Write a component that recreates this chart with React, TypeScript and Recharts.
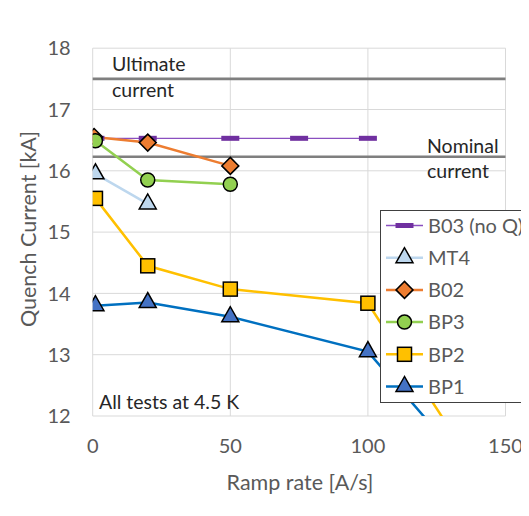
import React from 'react';
import { LineChart, Line, XAxis, YAxis, CartesianGrid, ReferenceLine, Legend } from 'recharts';

// ---- data ----
const xTicks = [0, 50, 100, 150];
const yTicks = [12, 13, 14, 15, 16, 17, 18];

const B03_X = [1, 20, 50, 75, 100];
const B03_Y = [16.53, 16.53, 16.53, 16.53, 16.53];
const MT4_X = [1, 20];
const MT4_Y = [15.95, 15.46];
const B02_X = [0.5, 20, 50];
const B02_Y = [16.55, 16.46, 16.08];
const BP3_X = [1, 20, 50];
const BP3_Y = [16.49, 15.85, 15.78];
const BP2_X = [1, 20, 50, 100, 150];
const BP2_Y = [15.55, 14.45, 14.07, 13.84, 10.4];
const BP1_X = [1, 20, 50, 100, 150];
const BP1_Y = [13.8, 13.85, 13.62, 13.05, 10.45];

const ULTIMATE = 17.5;
const NOMINAL = 16.23;

const toPoints = (xs: number[], ys: number[]) => xs.map((x, i) => ({ x, y: ys[i] }));

type Shape = 'dash' | 'triangle' | 'diamond' | 'circle' | 'square';

const series: { name: string; data: { x: number; y: number }[]; line: string; fill: string; shape: Shape; width: number }[] = [
  { name: 'B03 (no Q)', data: toPoints(B03_X, B03_Y), line: '#8a4fc0', fill: '#7030A0', shape: 'dash', width: 1.3 },
  { name: 'MT4', data: toPoints(MT4_X, MT4_Y), line: '#BDD7EE', fill: '#BDD7EE', shape: 'triangle', width: 2.5 },
  { name: 'B02', data: toPoints(B02_X, B02_Y), line: '#ED7D31', fill: '#ED7D31', shape: 'diamond', width: 2.5 },
  { name: 'BP3', data: toPoints(BP3_X, BP3_Y), line: '#92D050', fill: '#92D050', shape: 'circle', width: 2.5 },
  { name: 'BP2', data: toPoints(BP2_X, BP2_Y), line: '#FFC000', fill: '#FFC000', shape: 'square', width: 2.5 },
  { name: 'BP1', data: toPoints(BP1_X, BP1_Y), line: '#0070C0', fill: '#4472C4', shape: 'triangle', width: 2.5 },
];

const FONT = 'Lato, "Open Sans", sans-serif';
const TICK_FS = 20;
const TITLE_FS = 21.5;
const LEGEND_FS = 20;
const NOTE_FS = 19.5;
const TICK_COLOR = '#595959';
const TEXT_COLOR = '#262626';

function Marker({ shape, cx, cy, fill }: { shape: Shape; cx: number; cy: number; fill: string }) {
  const st = { stroke: '#000', strokeWidth: 1.5, strokeLinejoin: 'miter' as const };
  switch (shape) {
    case 'dash':
      return <rect x={cx - 9} y={cy - 2.5} width={18} height={5} fill={fill} />;
    case 'triangle':
      return <polygon points={`${cx},${cy - 10} ${cx - 8.5},${cy + 5} ${cx + 8.5},${cy + 5}`} fill={fill} {...st} />;
    case 'diamond':
      return <polygon points={`${cx},${cy - 8.5} ${cx + 8.5},${cy} ${cx},${cy + 8.5} ${cx - 8.5},${cy}`} fill={fill} {...st} />;
    case 'circle':
      return <circle cx={cx} cy={cy} r={7} fill={fill} {...st} />;
    case 'square':
    default:
      return <rect x={cx - 7} y={cy - 7} width={14} height={14} fill={fill} {...st} />;
  }
}

const LegendBox = () => (
  <div
    style={{
      width: 170,
      height: 191,
      border: '1px solid #404040',
      background: '#fff',
      boxSizing: 'content-box',
      position: 'relative',
      fontFamily: FONT,
    }}
  >
    <svg width={170} height={191} style={{ position: 'absolute', left: 0, top: 0 }}>
      {series.map((s, i) => {
        const cy = 14.5 + i * 32.2;
        return (
          <g key={s.name}>
            <line x1={5} x2={42} y1={cy} y2={cy} stroke={s.line} strokeWidth={s.shape === 'dash' ? 1.3 : 2.5} />
            <Marker shape={s.shape} cx={23.5} cy={cy} fill={s.fill} />
            <text x={47} y={cy} dy="0.36em" fontSize={LEGEND_FS} fill={TICK_COLOR} fontFamily={FONT}>
              {s.name}
            </text>
          </g>
        );
      })}
    </svg>
  </div>
);

export default function App() {
  return (
    <div style={{ position: 'relative', width: 529, height: 516, margin: -8, overflow: 'hidden', background: '#fff' }}>
      <div
        style={{
          position: 'absolute',
          left: 5,
          top: 7,
          width: 600,
          height: 600,
          borderLeft: '1px solid #d9d9d9',
          borderTop: '1px solid #d9d9d9',
        }}
      />
      <div
        style={{
          position: 'absolute',
          left: 0,
          top: 488,
          width: 5,
          height: 11,
          background: 'linear-gradient(#5fc3e8, #1a9ed0)',
        }}
      />
      <div style={{ position: 'absolute', left: 0, top: 0 }}>
        <LineChart width={529} height={516} margin={{ top: 48.2, right: 23.5, bottom: 0, left: 0 }}>
          <CartesianGrid stroke="#d9d9d9" strokeWidth={1} horizontalValues={yTicks} verticalValues={xTicks} />
          <XAxis
            type="number"
            dataKey="x"
            domain={[0, 150]}
            ticks={xTicks}
            allowDataOverflow
            axisLine={false}
            tickLine={false}
            tickSize={0}
            tickMargin={22.5}
            height={100}
            tick={{ fill: TICK_COLOR, fontSize: TICK_FS, fontFamily: FONT }}
            label={{
              content: () => (
                <text x={300} y={490} textAnchor="middle" fontSize={TITLE_FS} fill={TICK_COLOR} fontFamily={FONT}>
                  Ramp rate [A/s]
                </text>
              ),
            }}
          />
          <YAxis
            type="number"
            dataKey="y"
            domain={[12, 18]}
            ticks={yTicks}
            allowDataOverflow
            axisLine={false}
            tickLine={false}
            tickSize={0}
            tickMargin={22}
            width={92.7}
            tick={{ fill: TICK_COLOR, fontSize: TICK_FS, fontFamily: FONT }}
            label={{
              content: () => (
                <text
                  x={28}
                  y={229}
                  transform="rotate(-90 28 229)"
                  textAnchor="middle"
                  dominantBaseline="central"
                  fontSize={TITLE_FS}
                  fill={TICK_COLOR}
                  fontFamily={FONT}
                >
                  Quench Current [kA]
                </text>
              ),
            }}
          />
          <ReferenceLine
            y={ULTIMATE}
            stroke="#7f7f7f"
            strokeWidth={2.6}
            label={{
              content: () => (
                <g fontSize={NOTE_FS} fill={TEXT_COLOR} fontFamily={FONT}>
                  <text x={112} y={71}>Ultimate</text>
                  <text x={112} y={97}>current</text>
                </g>
              ),
            }}
          />
          <ReferenceLine
            y={NOMINAL}
            stroke="#7f7f7f"
            strokeWidth={2.6}
            label={{
              content: () => (
                <g fontSize={NOTE_FS} fill={TEXT_COLOR} fontFamily={FONT}>
                  <text x={427} y={152.5}>Nominal</text>
                  <text x={427} y={178}>current</text>
                </g>
              ),
            }}
          />
          <ReferenceLine
            y={12}
            stroke="none"
            strokeOpacity={0}
            label={{
              content: () => (
                <text x={99} y={408.5} fontSize={NOTE_FS} fill={TEXT_COLOR} fontFamily={FONT}>
                  All tests at 4.5 K
                </text>
              ),
            }}
          />
          {series.map((s) => (
            <Line
              key={s.name}
              name={s.name}
              data={s.data}
              dataKey="y"
              type="linear"
              stroke={s.line}
              strokeWidth={s.width}
              isAnimationActive={false}
              dot={(p: any) => <Marker key={`${s.name}-${p.index}`} shape={s.shape} cx={p.cx} cy={p.cy} fill={s.fill} />}
              activeDot={false}
            />
          ))}
          <Legend
            layout="horizontal"
            verticalAlign="middle"
            align="center"
            content={() => <LegendBox />}
            wrapperStyle={{ position: 'absolute', left: 380, top: 210, width: 172, height: 193, bottom: 'auto', right: 'auto', margin: 0 }}
          />
        </LineChart>
      </div>
    </div>
  );
}
